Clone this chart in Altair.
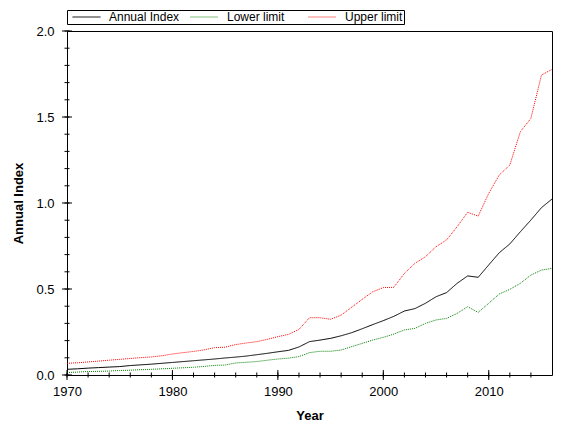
import altair as alt
import pandas as pd

years = list(range(1970, 2017))
annual_index = [0.033, 0.036, 0.040, 0.043, 0.046, 0.049, 0.055, 0.059, 0.063, 0.068,
                0.073, 0.078, 0.083, 0.088, 0.093, 0.099, 0.104, 0.110, 0.118, 0.126,
                0.135, 0.143, 0.163, 0.194, 0.203, 0.213, 0.228, 0.246, 0.269, 0.293,
                0.316, 0.341, 0.372, 0.386, 0.417, 0.455, 0.479, 0.533, 0.576, 0.568,
                0.640, 0.711, 0.762, 0.833, 0.901, 0.973, 1.023]
lower_limit = [0.014, 0.017, 0.020, 0.021, 0.023, 0.026, 0.028, 0.031, 0.033, 0.036,
               0.039, 0.042, 0.045, 0.050, 0.056, 0.058, 0.070, 0.074, 0.078, 0.086,
               0.093, 0.098, 0.107, 0.130, 0.138, 0.138, 0.145, 0.165, 0.184, 0.203,
               0.219, 0.238, 0.262, 0.271, 0.300, 0.320, 0.329, 0.358, 0.397, 0.364,
               0.417, 0.471, 0.498, 0.533, 0.581, 0.610, 0.620]
upper_limit = [0.068, 0.071, 0.076, 0.081, 0.086, 0.091, 0.096, 0.101, 0.105, 0.112,
               0.122, 0.130, 0.137, 0.146, 0.159, 0.162, 0.177, 0.186, 0.194, 0.207,
               0.223, 0.236, 0.265, 0.333, 0.333, 0.324, 0.348, 0.394, 0.440, 0.484,
               0.508, 0.510, 0.591, 0.649, 0.688, 0.746, 0.785, 0.862, 0.946, 0.924,
               1.056, 1.163, 1.221, 1.415, 1.492, 1.744, 1.777]

series_names = ["Annual Index", "Lower limit", "Upper limit"]
series_colors = ["#000000", "#008000", "#ff0000"]
series_dashes = [[1, 0], [1, 1], [1, 1]]

x_major = [1970, 1980, 1990, 2000, 2010]
x_minor = list(range(1970, 2016, 2))
y_major = [0.0, 0.5, 1.0, 1.5, 2.0]
y_minor = [round(i * 0.1, 1) for i in range(21)]

rows = []
for name, vals in zip(series_names, [annual_index, lower_limit, upper_limit]):
    for yr, v in zip(years, vals):
        rows.append({"Year": yr, "Value": v, "Series": name})
df = pd.DataFrame(rows)

FONT = "Liberation Sans"
PLOT_W, PLOT_H = 485, 344
xscale = alt.Scale(domain=[1970, 2016], nice=False, zero=False)
yscale = alt.Scale(domain=[0, 2], nice=False, zero=False)

legend = alt.Legend(
    orient="none", legendX=0, legendY=-21, direction="horizontal", title=None,
    strokeColor="black", padding=1, symbolType="stroke", symbolSize=784,
    symbolStrokeWidth=1, labelFont=FONT, labelFontSize=12, labelColor="black",
    labelOffset=8, columnPadding=6, gridAlign="all", clipHeight=12, symbolOffset=4,
)

# series lines, with the labelled axes
lines = alt.Chart(df).mark_line(strokeWidth=1).encode(
    x=alt.X("Year:Q", scale=xscale, axis=alt.Axis(
        orient="bottom", values=x_major, format="d", ticks=False,
        labelFlush=False, domain=False, grid=False, labelPadding=10,
        title="Year", titlePadding=11)),
    y=alt.Y("Value:Q", scale=yscale, axis=alt.Axis(
        orient="left", values=y_major, format=".1f", ticks=False,
        labelFlush=False, domain=False, grid=False, labelPadding=13,
        title="Annual Index", titlePadding=10)),
    color=alt.Color("Series:N", scale=alt.Scale(domain=series_names, range=series_colors), legend=legend),
    strokeDash=alt.StrokeDash("Series:N", scale=alt.Scale(domain=series_names, range=series_dashes), legend=legend),
)

# tick marks crossing the axes, placed by the shared scales
def x_ticks(values, half):
    return alt.Chart(pd.DataFrame({"tx": values})).mark_rule(color="black", strokeWidth=1).encode(
        x=alt.X("tx:Q", scale=xscale, axis=None),
        y=alt.value(PLOT_H - half), y2=alt.value(PLOT_H + half),
    )

def y_ticks(values, half):
    return alt.Chart(pd.DataFrame({"ty": values})).mark_rule(color="black", strokeWidth=1).encode(
        y=alt.Y("ty:Q", scale=yscale, axis=None),
        x=alt.value(-half), x2=alt.value(half),
    )

chart = alt.layer(
    lines,
    x_ticks(x_major, 5), x_ticks(x_minor, 2.5),
    y_ticks(y_major, 5), y_ticks(y_minor, 2.5),
).resolve_axis(x="independent", y="independent").properties(
    width=PLOT_W, height=PLOT_H,
    autosize=alt.AutoSizeParams(type="none"),
    padding={"left": 59, "top": 23, "right": 20, "bottom": 50},
).configure_view(stroke="black").configure_axis(
    labelFont=FONT, labelFontSize=13, labelColor="black",
    titleFont=FONT, titleFontSize=13, titleFontWeight="bold", titleColor="black",
)

chart.save("out.html", embed_options={"renderer": "svg", "actions": False})
